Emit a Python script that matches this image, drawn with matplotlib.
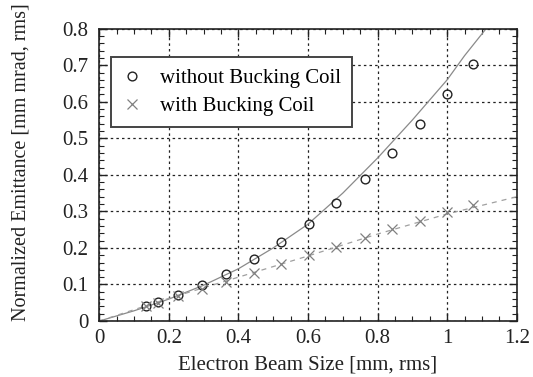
import matplotlib
matplotlib.use("Agg")
import matplotlib.pyplot as plt
from matplotlib.ticker import MultipleLocator

plt.rcParams['font.family'] = ['Liberation Serif', 'DejaVu Serif']

# Measured data: without bucking coil (circles)
x_without = [0.134, 0.170, 0.226, 0.296, 0.365, 0.445, 0.523, 0.603, 0.681, 0.763, 0.842, 0.923, 1.000, 1.075]
y_without = [0.041, 0.052, 0.072, 0.098, 0.130, 0.171, 0.215, 0.266, 0.323, 0.389, 0.459, 0.538, 0.620, 0.704]

# Measured data: with bucking coil (crosses)
x_with = [0.134, 0.170, 0.226, 0.296, 0.365, 0.445, 0.523, 0.603, 0.681, 0.763, 0.842, 0.923, 1.000, 1.075]
y_with = [0.040, 0.050, 0.068, 0.087, 0.108, 0.132, 0.156, 0.180, 0.202, 0.228, 0.251, 0.274, 0.297, 0.318]

# Fit curves
fit1_x = [0.0, 0.1, 0.2, 0.3, 0.4, 0.5, 0.6, 0.7, 0.8, 0.9, 1.0, 1.05, 1.112]
fit1_y = [0.0, 0.028, 0.060, 0.098, 0.143, 0.200, 0.265, 0.350, 0.446, 0.550, 0.660, 0.726, 0.800]
fit2_x = [0.0, 0.2, 0.4, 0.6, 0.8, 1.0, 1.2]
fit2_y = [0.0, 0.062, 0.120, 0.178, 0.238, 0.293, 0.340]

fig = plt.figure(figsize=(5.33, 3.77), dpi=100)
ax = fig.add_axes([0.1863, 0.1485, 0.9694 - 0.1863, 0.9239 - 0.1485])

ax.plot(fit1_x, fit1_y, '-', color='#8a8a8a', lw=0.9, zorder=2)
ax.plot(fit2_x, fit2_y, '--', color='#a0a0a0', lw=0.9, dashes=(4, 4), zorder=2)
ax.plot(x_without, y_without, 'o', mfc='none', mec='#222222', ms=6.3, mew=1.0,
        label='without Bucking Coil', zorder=3)
ax.plot(x_with, y_with, 'x', color='#808080', ms=6.5, mew=0.9,
        label='with Bucking Coil', zorder=3)

ax.set_xlim(0, 1.2)
ax.set_ylim(0, 0.8)
ax.xaxis.set_minor_locator(MultipleLocator(0.05))
ax.yaxis.set_minor_locator(MultipleLocator(0.02))
ax.set_xticks([0, 0.2, 0.4, 0.6, 0.8, 1.0, 1.2])
ax.set_xticklabels(['0', '0.2', '0.4', '0.6', '0.8', '1', '1.2'])
ax.set_yticks([0, 0.1, 0.2, 0.3, 0.4, 0.5, 0.6, 0.7, 0.8])
ax.set_yticklabels(['0', '0.1', '0.2', '0.3', '0.4', '0.5', '0.6', '0.7', '0.8'])

ax.tick_params(which='both', direction='in', top=True, right=True, labelsize=15,
               color='#222222', labelcolor='#222222')
ax.tick_params(which='major', length=6, width=1.0)
ax.tick_params(which='minor', length=3.5, width=0.8)
ax.tick_params(axis='x', pad=6)
ax.tick_params(axis='y', pad=8)
for s in ax.spines.values():
    s.set_linewidth(1.2)
    s.set_color('#222222')

ax.grid(True, which='major', linestyle=(0, (2, 2.5)), color='#222222', lw=0.9)

ax.set_xlabel('Electron Beam Size [mm, rms]', fontsize=15, color='#222222', labelpad=5)
ax.set_ylabel('Normalized Emittance [mm mrad, rms]', fontsize=14.5, color='#222222')
ax.yaxis.set_label_coords(-0.164, 0.544)

leg = ax.legend(loc='upper left', bbox_to_anchor=(0.028, 0.903), fontsize=15,
                frameon=True, fancybox=False, framealpha=1, edgecolor='#444444',
                borderpad=0.55, handlelength=0.9, handletextpad=0.9, labelspacing=0.4,
                borderaxespad=0)
leg.get_frame().set_linewidth(1.4)

fig.savefig('out.png', dpi=100)
